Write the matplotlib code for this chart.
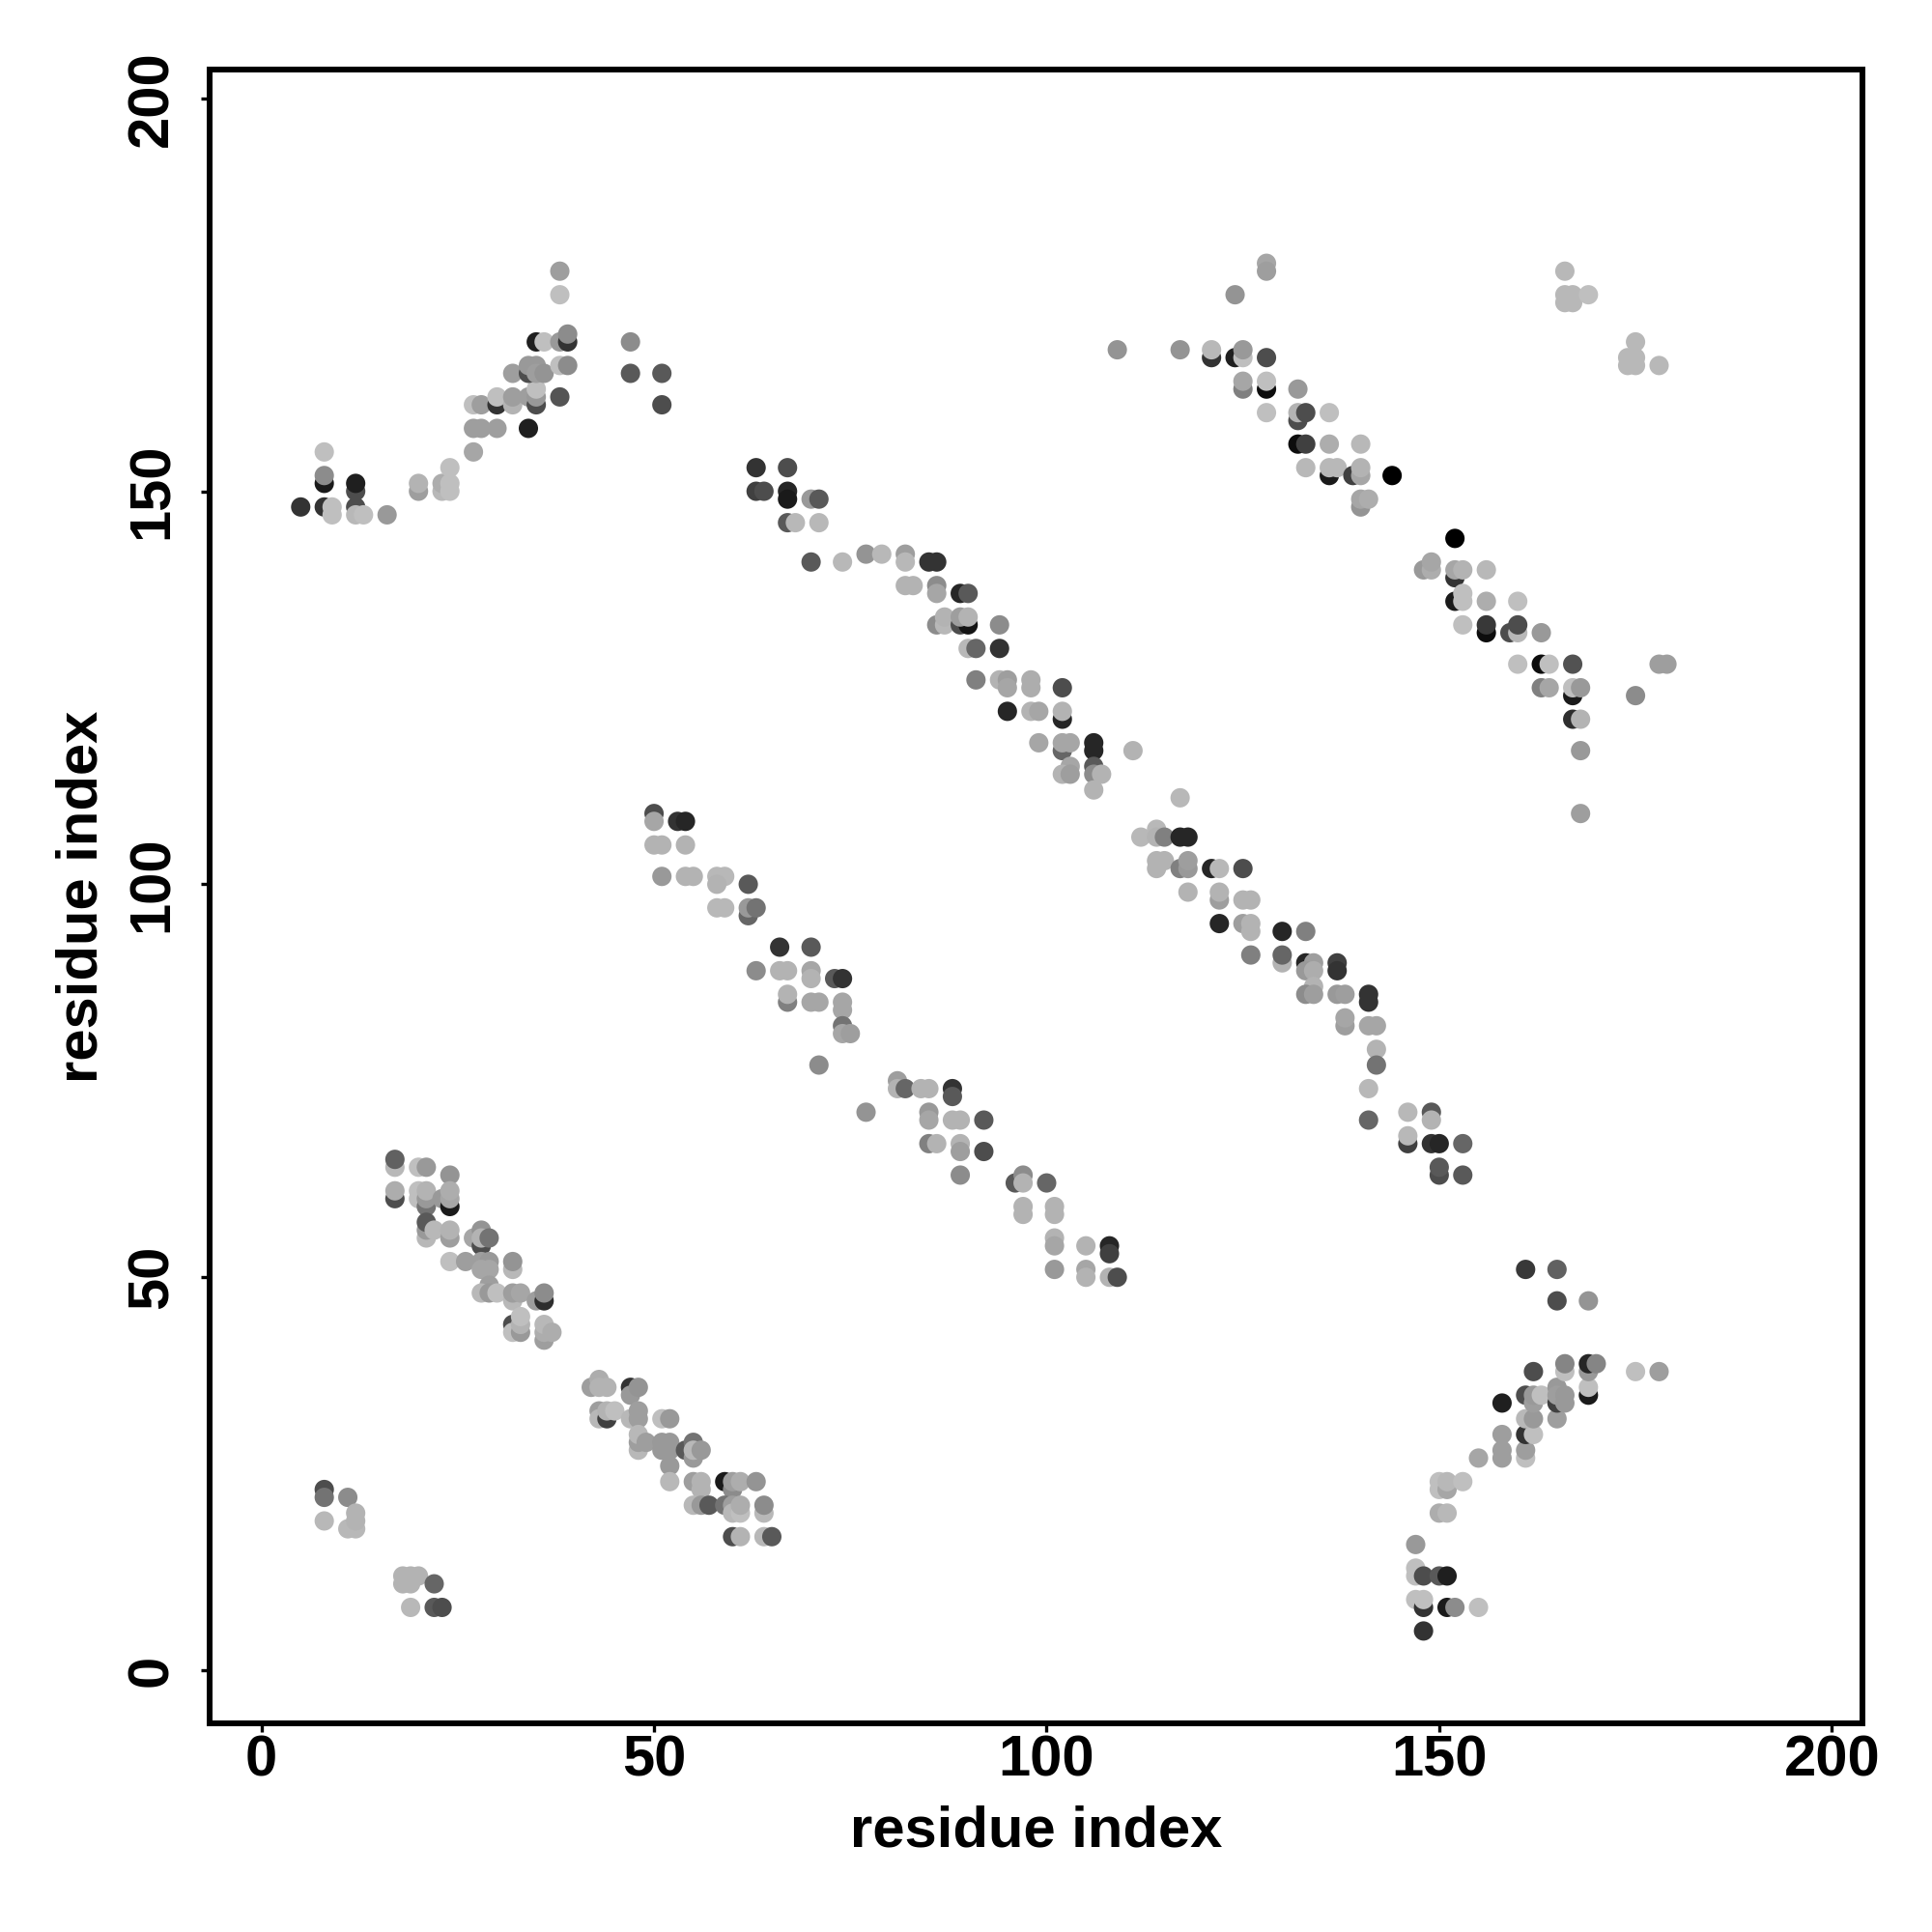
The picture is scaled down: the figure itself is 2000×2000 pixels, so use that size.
import matplotlib
matplotlib.use('Agg')
import matplotlib.pyplot as plt

plt.rcParams['font.family'] = ['Liberation Sans', 'DejaVu Sans']

# contacts: (residue i, residue j, gray level), drawn in this order
top_left = [(5,148,.2),(8,148,.2),(9,148,.75),(9,147,.75),(8,151,.1),(8,152,.55),(8,155,.75),(12,150,.3),(12,151,.12),
            (12,148,.3),(12,147,.72),(13,147,.75),(16,147,.6),(20,150,.62),(20,151,.7),(23,150,.72),(23,151,.68),
            (24,150,.75),(24,151,.75),(24,153,.75),(27,155,.65),(27,158,.62),(28,158,.62),(30,158,.62),(34,158,.12),
            (27,161,.75),(28,161,.62),(30,161,.2),(30,162,.75),(32,161,.7),(32,162,.62),(34,162,.62),(35,161,.3),
            (35,162,.6),(35,163,.75),(38,162,.33),(32,165,.62),(34,165,.3),(34,166,.6),(35,166,.6),(35,165,.62),
            (36,165,.58),(38,166,.75),(39,166,.55),(35,169,.12),(36,169,.75),(38,169,.6),(39,169,.2),(39,170,.55),
            (38,175,.75),(38,178,.62),(47,169,.55),(47,165,.35),(51,165,.35),(51,161,.3)]

low_left = [(17,64,.72),(17,65,.38),(17,60,.3),(17,61,.68),(20,64,.75),(21,64,.6),(20,61,.75),(20,60,.75),(21,59,.45),
            (21,60,.6),(21,61,.7),(24,63,.58),(23,60,.6),(24,59,.1),(24,60,.65),(24,61,.68),(21,55,.72),(21,56,.6),
            (21,57,.35),(22,56,.72),(24,55,.62),(24,56,.7),(27,55,.65),(28,56,.58),(28,54,.3),(28,55,.7),(29,55,.45),
            (24,52,.75),(26,52,.62),(28,52,.62),(29,52,.6),(28,51,.65),(29,51,.65),(32,51,.72),(32,52,.58),(29,49,.62),
            (28,48,.72),(29,48,.6),(30,48,.75),(32,47,.72),(32,48,.62),(33,48,.65),(35,47,.62),(36,47,.18),(36,48,.55),
            (32,44,.3),(32,43,.75),(33,43,.6),(33,44,.7),(33,45,.75),(36,42,.62),(36,43,.68),(36,44,.72),(37,43,.68)]

low_left2 = [(42,36,.62),(43,37,.68),(43,36,.7),(44,36,.7),(47,36,.2),(47,35,.6),(48,36,.58),(43,33,.62),(43,32,.72),
             (44,32,.25),(44,33,.7),(45,33,.75),(47,32,.72),(48,32,.62),(48,33,.62),(51,32,.75),(52,32,.6),(48,28,.72),
             (48,29,.62),(48,30,.72),(49,29,.62),(51,29,.6),(51,28,.6),(52,29,.6),(52,28,.6),(52,26,.6),(52,24,.72),
             (54,28,.35),(55,29,.45),(55,27,.6),(55,28,.72),(56,28,.6),(55,24,.62),(56,24,.7),(56,23,.7),(55,21,.72),
             (56,21,.6),(57,21,.35),(59,24,.1),(60,23,.55),(60,24,.62),(61,24,.68),(63,24,.58),(59,21,.45),(60,21,.62),
             (60,20,.72),(61,20,.75),(61,21,.68),(64,20,.72),(64,21,.55),(60,17,.3),(61,17,.7),(64,17,.72),(65,17,.35)]

corner = [(8,23,.3),(8,22,.45),(8,19,.72),(11,22,.55),(11,18,.72),(12,18,.72),(12,19,.7),(12,20,.7),(18,12,.7),(18,11,.7),
          (19,12,.7),(19,11,.7),(20,12,.7),(19,8,.72),(22,11,.4),(22,8,.35),(23,8,.3)]

mid_diag = [(50,109,.3),(50,108,.65),(50,105,.7),(51,105,.7),(51,101,.6),(53,108,.2),(54,108,.15),(54,105,.7),(54,101,.7),
            (55,101,.7),(58,101,.72),(59,101,.72),(58,100,.7),(58,97,.72),(59,97,.72),(62,100,.35),(62,96,.4),(62,97,.6),
            (63,97,.45),(63,89,.55),(66,92,.2),(66,89,.7),(67,89,.7),(67,85,.5),(67,86,.7),(70,92,.35),(70,89,.65),
            (70,88,.7),(70,85,.65),(71,85,.65),(71,77,.55),(73,88,.35),(74,88,.2),(74,85,.65),(74,84,.65),(74,82,.45),
            (74,81,.65),(75,81,.62),(77,71,.58),(81,75,.62),(81,74,.7),(82,74,.4),(84,74,.7),(85,74,.7),(88,74,.2),
            (88,73,.35),(85,71,.6),(85,70,.65),(85,67,.5),(86,67,.7),(88,70,.7),(89,70,.7),(92,70,.35),(89,67,.7),
            (89,66,.62),(92,66,.3),(89,63,.55),(96,62,.35),(97,63,.55),(97,62,.7),(100,62,.4),(97,59,.7),(97,58,.7),
            (101,59,.7),(101,58,.7),(101,55,.7),(101,54,.65),(101,51,.6),(105,54,.7),(105,51,.65),(105,50,.7),
            (108,54,.15),(108,53,.25),(108,50,.7),(109,50,.3)]

long_diag_a = [(63,153,.2),(63,150,.25),(64,150,.3),(67,153,.3),(67,150,.15),(67,149,.1),(67,146,.35),(68,146,.72),
               (70,149,.6),(71,149,.35),(71,146,.72),(70,141,.35),(74,141,.72),(77,142,.58),(79,142,.72),(82,142,.62),
               (82,141,.72),(85,141,.2),(86,141,.2),(82,138,.7),(83,138,.7),(86,138,.55),(86,137,.65),(89,137,.15),
               (90,137,.35),(86,133,.55),(87,133,.72),(87,134,.7),(89,133,.3),(90,133,.08),(89,134,.62),(90,134,.7),
               (90,130,.72),(91,130,.4),(94,133,.55),(94,130,.2),(91,126,.5),(94,126,.7),(95,126,.62),(95,125,.65),
               (95,122,.15),(98,126,.68),(98,125,.68),(98,122,.7),(99,122,.65),(99,118,.65),(102,125,.3),(102,121,.15),
               (102,122,.7),(102,117,.4),(102,118,.65),(103,118,.65),(103,115,.65),(102,114,.7),(103,114,.62),
               (106,118,.15),(106,117,.15),(106,115,.35),(106,114,.55),(106,112,.7),(107,114,.7),(111,117,.7)]

long_diag_b = [(117,111,.72),(112,106,.72),(114,107,.72),(114,106,.7),(115,106,.5),(117,106,.15),(118,106,.15),
               (114,102,.7),(114,103,.7),(115,103,.7),(117,102,.5),(118,102,.6),(118,103,.62),(118,99,.7),(121,102,.15),
               (122,102,.72),(125,102,.3),(122,98,.62),(122,99,.7),(122,95,.15),(125,98,.7),(126,98,.7),(125,95,.62),
               (126,95,.7),(126,94,.7),(126,91,.5),(130,94,.15),(130,90,.7),(130,91,.4),(133,94,.5),(133,90,.15),
               (134,90,.62),(133,89,.6),(134,89,.68),(134,87,.7),(133,86,.55),(134,86,.62),(137,90,.25),(137,89,.2),
               (137,86,.6),(138,86,.62),(138,82,.62),(138,83,.65),(141,86,.2),(141,85,.2),(141,82,.65),(142,82,.65),
               (142,79,.7),(142,77,.45),(141,74,.72),(141,70,.4),(146,71,.72),(146,67,.25),(146,68,.72),(149,71,.35),
               (149,70,.7),(149,67,.2),(150,67,.15),(150,63,.3),(150,64,.35),(153,67,.4),(153,63,.35)]

low_right = [(147,16,.6),(147,13,.75),(147,12,.75),(148,12,.3),(150,12,.35),(151,12,.12),(147,9,.75),(148,8,.2),(148,9,.75),
             (151,8,.1),(152,8,.55),(155,8,.75),(148,5,.2),(150,20,.68),(151,20,.72),(150,24,.75),(150,23,.75),(151,23,.65),
             (151,24,.72),(153,24,.75),(155,27,.65),(158,27,.62),(158,28,.62),(158,30,.62),(158,34,.12),(161,27,.75),
             (161,28,.62),(161,30,.2),(162,30,.75),(161,32,.72),(162,32,.6),(161,35,.3),(162,34,.62),(162,35,.6),(163,35,.75),
             (162,38,.3),(165,32,.62),(165,34,.25),(165,36,.6),(165,35,.62),(166,34,.6),(166,35,.6),(166,38,.75),(166,39,.52),
             (169,35,.1),(169,36,.75),(169,38,.6),(169,39,.15),(170,39,.52),(175,38,.75),(178,38,.62),(161,51,.22),
             (165,51,.38),(165,47,.3),(169,47,.58)]

top_right = [(109,168,.58),(117,168,.58),(128,179,.65),(128,178,.62),(124,175,.58),(121,167,.2),(121,168,.72),(124,167,.12),
             (125,167,.75),(125,168,.6),(128,167,.3),(125,163,.5),(125,164,.65),(128,163,.05),(128,164,.75),(128,160,.75),
             (132,163,.6),(132,159,.3),(132,160,.7),(133,160,.3),(136,160,.75),(132,156,.05),(133,156,.25),(136,156,.68),
             (140,156,.72),(133,153,.72),(136,152,.1),(136,153,.72),(137,153,.72),(139,152,.25),(140,152,.65),(140,153,.7),
             (144,152,0),(140,148,.58),(140,149,.65),(141,149,.68),
             (166,178,.72),(166,175,.72),(166,174,.72),(167,175,.72),(167,174,.72),(169,175,.75),(175,169,.72),(174,167,.72),
             (175,167,.72),(174,166,.72),(175,166,.72),(178,166,.72)]

right_diag = [(152,144,0),(148,140,.6),(149,140,.68),(149,141,.65),(152,139,.2),(152,140,.65),(153,140,.7),(156,140,.72),
              (152,136,.1),(153,136,.75),(153,137,.75),(156,136,.68),(160,136,.75),(153,133,.75),(156,132,.05),(156,133,.22),
              (159,132,.3),(160,132,.72),(160,133,.3),(163,132,.6),(160,128,.75),(163,128,.05),(164,128,.75),(167,128,.32),
              (163,125,.5),(164,125,.65),(167,124,.1),(167,125,.75),(168,125,.6),(167,121,.18),(168,121,.7),(168,117,.6),
              (168,109,.62),(178,128,.62),(179,128,.62),(175,124,.55)]

ticks = [0, 50, 100, 150, 200]

fig = plt.figure(figsize=(10, 10), dpi=200)
ax = fig.add_axes([217/2000, 1-1784/2000, (1928-217)/2000, (1784-72)/2000])

for seg in [corner, low_left, low_left2, mid_diag, top_left, long_diag_a, long_diag_b, right_diag, top_right, low_right]:
    x = [p[0] for p in seg]
    y = [p[1] for p in seg]
    c = [str(p[2]) for p in seg]
    ax.scatter(x, y, s=52, c=c, linewidths=0, zorder=3)

ax.set_xlim(-6.6, 203.9)
ax.set_ylim(-6.75, 203.65)
ax.set_xticks(ticks)
ax.set_yticks(ticks)
ax.tick_params(length=3.3, width=1.2, labelsize=21.5)
ax.tick_params(axis='x', pad=1)
ax.tick_params(axis='y', pad=8)
for lab in ax.get_xticklabels():
    lab.set_fontweight('bold')
for lab in ax.get_yticklabels():
    lab.set_fontweight('bold')
    lab.set_rotation(90)
    lab.set_va('center')
for s in ax.spines.values():
    s.set_linewidth(2.16)
ax.set_xlabel('residue index', fontsize=21.5, fontweight='bold', labelpad=6.5)
ax.set_ylabel('residue index', fontsize=21.5, fontweight='bold', labelpad=6.5)

fig.savefig('out.png', dpi=200)
